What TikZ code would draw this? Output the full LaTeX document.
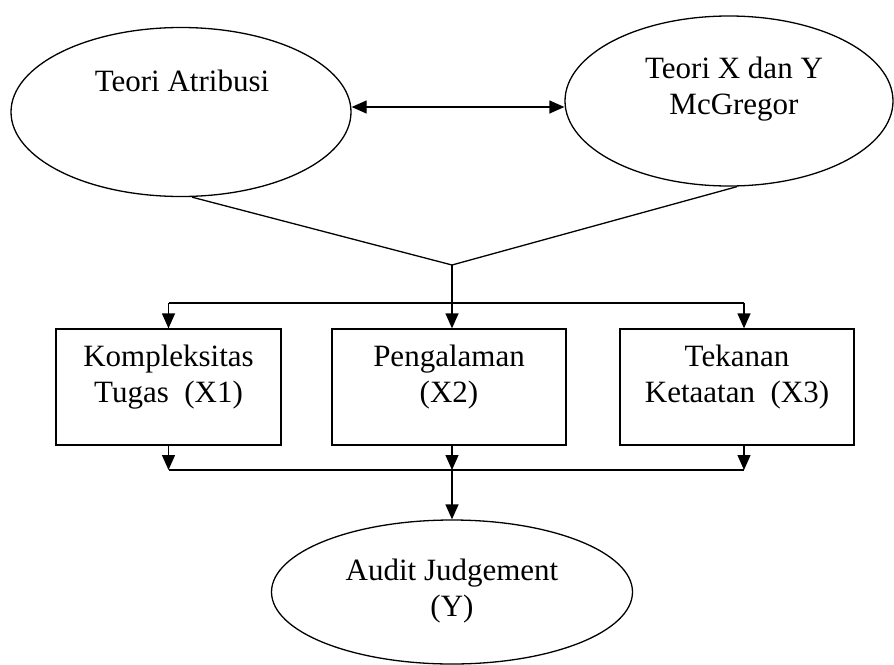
\documentclass[tikz,border=0pt]{standalone}
\usepackage{fontspec}
\setmainfont{Liberation Serif}
\usetikzlibrary{shapes.geometric,arrows.meta}
\tikzset{
  ell/.style={draw, line width=1.3pt, ellipse, inner sep=0pt},
  boxn/.style={draw, line width=1.3pt, rectangle, inner sep=0pt},
  lbl/.style={align=center, inner sep=0pt, font=\fontsize{31}{36}\selectfont},
  conn/.style={line width=1.3pt},
  arr/.style={conn, -{Triangle[length=15pt,width=13pt]}},
  darr/.style={conn, {Triangle[length=15pt,width=13pt]}-{Triangle[length=15pt,width=13pt]}}
}
\begin{document}
\begin{tikzpicture}[x=1pt,y=-1pt]
\useasboundingbox (0,0) rectangle (894,664);
% ellipses
\node[ell, minimum width=340pt, minimum height=169pt] (e1) at (181,112) {};
\node[ell, minimum width=328pt, minimum height=170pt] (e2) at (729,101) {};
\node[ell, minimum width=361pt, minimum height=144pt] (e3) at (452,592) {};
\node[lbl] (t1) at (182,81) {Teori Atribusi};
\node[lbl] (t2) at (734,89) {Teori X dan Y\\McGregor};
\node[lbl] (t3) at (452,591) {Audit Judgement\\(Y)};
% boxes
\node[boxn, minimum width=225pt, minimum height=116pt] (b1) at (168.5,387) {};
\node[boxn, minimum width=234pt, minimum height=116pt] (b2) at (449,387) {};
\node[boxn, minimum width=234pt, minimum height=116pt] (b3) at (737,387) {};
\node[lbl] (l1) at (168.5,377) {Kompleksitas\\Tugas\ \ (X1)};
\node[lbl] (l2) at (449,377) {Pengalaman\\(X2)};
\node[lbl] (l3) at (737,377) {Tekanan\\Ketaatan\ \ (X3)};
% coordinates
\coordinate (a) at (0,107);
\coordinate (j) at (452,265);
\coordinate (h1) at (168.5,303);
\coordinate (h3) at (744,303);
\coordinate (g1) at (168.5,470);
\coordinate (g2) at (452,470);
\coordinate (g3) at (744,470);
% connectors
\draw[darr] (e1.east |- a) -- (e2.west |- a);
\draw[conn] ([xshift=11pt]e1.south) -- (j) -- ([xshift=8pt]e2.south);
\draw[arr] (j) -- (j |- b2.north);
\draw[conn] (h1) -- (h3);
\draw[arr] (h1) -- (b1.north);
\draw[arr] (h3) -- (h3 |- b3.north);
\draw[arr] (b1.south) -- (g1);
\draw[arr] (g2 |- b2.south) -- (g2);
\draw[arr] (g3 |- b3.south) -- (g3);
\draw[conn] (g1) -- (g3);
\draw[arr] (g2) -- (e3.north);
\end{tikzpicture}
\end{document}
